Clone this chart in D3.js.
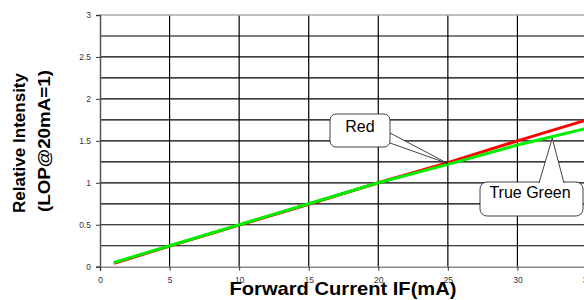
<!DOCTYPE html>
<html>
<head>
<meta charset="utf-8">
<script src="https://cdn.jsdelivr.net/npm/d3@7"></script>
<style>
  body { margin: 0; background: #fff; }
  svg { display: block; font-family: "Liberation Sans", Arial, sans-serif; }
</style>
</head>
<body>
<svg></svg>
<script>
window.onload = () => {

  const width = 584;
  const height = 300;

  const current = [1, 5, 10, 15, 20, 25, 30, 35];
  const redValues = [0.04, 0.245, 0.495, 0.745, 1.0, 1.24, 1.5, 1.75];
  const greenValues = [0.05, 0.25, 0.5, 0.75, 1.0, 1.22, 1.45, 1.65];
  const xTicks = [0, 5, 10, 15, 20, 25, 30, 35];
  const yTicks = [0, 0.5, 1, 1.5, 2, 2.5, 3];
  const yGrid = d3.range(0, 3.01, 0.25);

  const svg = d3.select('svg').attr('width', width).attr('height', height);

  const xScale = d3.scaleLinear().domain([0, 35]).range([100, 587]);
  const yScale = d3.scaleLinear().domain([0, 3]).range([266.7, 15]);

  // grid
  svg.append('g')
      .selectAll('line')
      .data(yGrid.slice(1, -1))
      .join('line')
      .attr('x1', xScale(0)).attr('x2', width)
      .attr('y1', d => yScale(d)).attr('y2', d => yScale(d))
      .attr('stroke', '#000').attr('stroke-width', 1.2);

  svg.append('g')
      .selectAll('line')
      .data(xTicks.slice(1))
      .join('line')
      .attr('x1', d => xScale(d)).attr('x2', d => xScale(d))
      .attr('y1', yScale(3)).attr('y2', yScale(0))
      .attr('stroke', '#000').attr('stroke-width', 1.2);

  // top border
  svg.append('line')
      .attr('x1', xScale(0)).attr('x2', width)
      .attr('y1', yScale(3)).attr('y2', yScale(3))
      .attr('stroke', '#aaa').attr('stroke-width', 1.5);

  // axes
  const xAxis = svg.append('g')
      .attr('transform', 'translate(0,' + yScale(0) + ')')
      .call(d3.axisBottom(xScale).tickValues(xTicks).tickSize(4).tickPadding(6));
  xAxis.select('.domain').attr('stroke', '#888').attr('stroke-width', 1.5);

  const yAxis = svg.append('g')
      .attr('transform', 'translate(' + xScale(0) + ',0)')
      .call(d3.axisLeft(yScale).tickValues(yTicks).tickFormat(d3.format('~g')).tickSize(4).tickPadding(5));
  yAxis.select('.domain').attr('stroke', '#555').attr('stroke-width', 1.5);

  svg.selectAll('.tick text')
      .attr('font-family', '"Liberation Sans", Arial, sans-serif')
      .attr('font-size', 8.5)
      .attr('fill', '#333');
  svg.selectAll('.tick line').attr('stroke', '#333');

  // lines
  const line = d3.line().x(d => xScale(d[0])).y(d => yScale(d[1]));

  svg.append('path')
      .datum(d3.zip(current, redValues))
      .attr('fill', 'none')
      .attr('stroke', '#ff0000')
      .attr('stroke-width', 3)
      .attr('d', line);

  svg.append('path')
      .datum(d3.zip(current, greenValues))
      .attr('fill', 'none')
      .attr('stroke', '#00ee00')
      .attr('stroke-width', 3)
      .attr('d', line);

  // callouts
  const callout = svg.append('g');
  callout.append('path')
      .attr('d', 'M390,133 L' + xScale(25) + ',' + yScale(1.23) + ' L390,143')
      .attr('fill', '#fff').attr('stroke', '#111').attr('stroke-width', 0.8);
  callout.append('rect')
      .attr('x', 330).attr('y', 114).attr('width', 60).attr('height', 33)
      .attr('rx', 6)
      .attr('fill', '#fff').attr('stroke', '#111').attr('stroke-width', 0.8);
  callout.append('text')
      .attr('x', 360).attr('y', 132).attr('text-anchor', 'middle')
      .attr('font-size', 16).text('Red');

  const callout2 = svg.append('g');
  callout2.append('rect')
      .attr('x', 480).attr('y', 182).attr('width', 103).attr('height', 34)
      .attr('rx', 7)
      .attr('fill', '#fff').attr('stroke', '#111').attr('stroke-width', 0.8);
  callout2.append('path')
      .attr('d', 'M539,183 L' + xScale(32.5) + ',' + yScale(1.53) + ' L564,183')
      .attr('fill', '#fff').attr('stroke', '#111').attr('stroke-width', 0.8);
  callout2.append('text')
      .attr('x', 530).attr('y', 198).attr('text-anchor', 'middle')
      .attr('font-size', 16).text('True Green');

  // titles
  svg.append('text')
      .attr('x', 343).attr('y', 295)
      .attr('text-anchor', 'middle')
      .attr('font-size', 19).attr('font-weight', 'bold')
      .attr('textLength', 227).attr('lengthAdjust', 'spacingAndGlyphs')
      .text('Forward Current IF(mA)');

  svg.append('text')
      .attr('transform', 'translate(25,143) rotate(-90)')
      .attr('text-anchor', 'middle')
      .attr('font-size', 17).attr('font-weight', 'bold')
      .attr('textLength', 140).attr('lengthAdjust', 'spacingAndGlyphs')
      .text('Relative Intensity');

  svg.append('text')
      .attr('transform', 'translate(50,141) rotate(-90)')
      .attr('text-anchor', 'middle')
      .attr('font-size', 17).attr('font-weight', 'bold')
      .attr('textLength', 142).attr('lengthAdjust', 'spacingAndGlyphs')
      .text('(LOP@20mA=1)');

};
</script>
</body>
</html>
